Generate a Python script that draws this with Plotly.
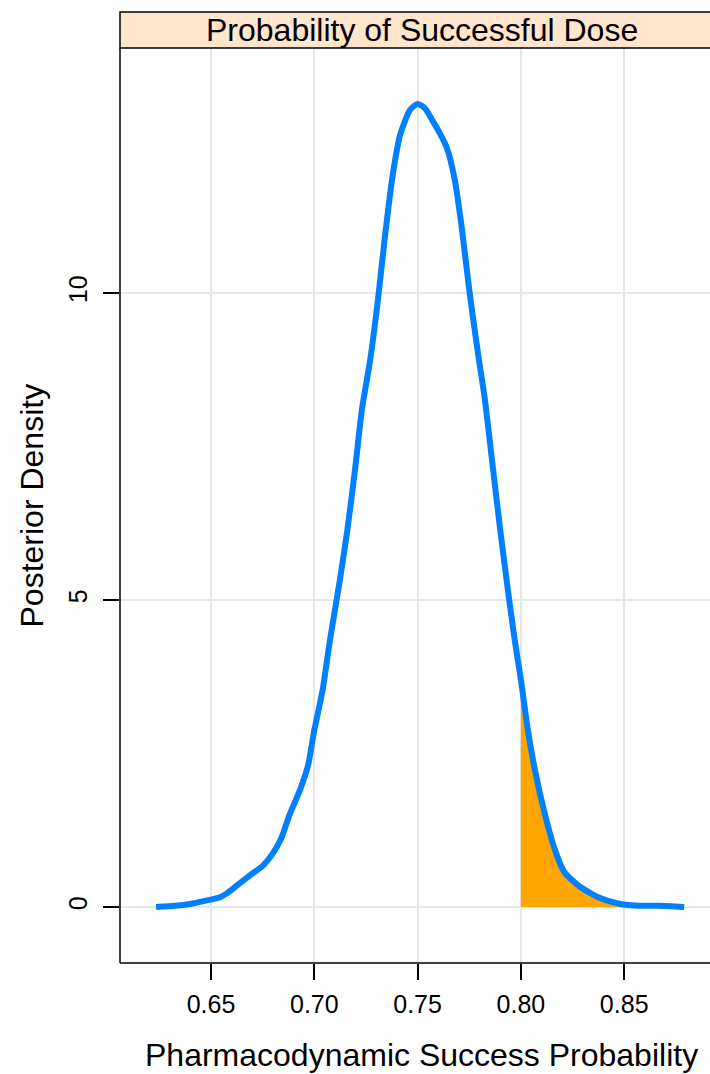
import numpy as np
import plotly.graph_objects as go

# Posterior density of the pharmacodynamic success probability
success_prob = [0.6234, 0.6326, 0.6398, 0.6470, 0.6544, 0.6580, 0.6640, 0.6690,
                0.6750, 0.6795, 0.6840, 0.6880, 0.6930, 0.6970, 0.7000, 0.7040,
                0.7076, 0.7124, 0.7160, 0.7197, 0.7230, 0.7270, 0.7308, 0.7340,
                0.7376, 0.7415, 0.7463, 0.7500, 0.7535, 0.7570, 0.7608, 0.7642,
                0.7680, 0.7715, 0.7750, 0.7790, 0.7826, 0.7860, 0.7900, 0.7937,
                0.7970, 0.8000, 0.8034, 0.8068, 0.8117, 0.8165, 0.8210, 0.8286,
                0.8380, 0.8480, 0.8576, 0.8670, 0.8790]
density = [0.00, 0.02, 0.05, 0.10, 0.16, 0.23, 0.39, 0.52,
           0.67, 0.85, 1.12, 1.50, 1.90, 2.31, 2.88, 3.53,
           4.35, 5.33, 6.14, 7.12, 8.09, 8.90, 9.89, 10.86,
           11.84, 12.57, 12.98, 13.08, 13.01, 12.82, 12.60, 12.36,
           11.84, 11.03, 10.05, 9.07, 8.26, 7.28, 6.14, 5.16,
           4.35, 3.70, 2.88, 2.23, 1.50, 0.93, 0.57, 0.33,
           0.15, 0.05, 0.02, 0.02, 0.00]
threshold = 0.80

x_ticks = [0.65, 0.70, 0.75, 0.80, 0.85]
x_tick_labels = ["0.65", "0.70", "0.75", "0.80", "0.85"]
y_ticks = [0, 5, 10]
y_tick_labels = ["0", "5", "10"]

panel_title = "Probability of Successful Dose"
x_title = "Pharmacodynamic Success Probability"
y_title = "Posterior Density"

FONT = "Liberation Sans, Arial, Helvetica, sans-serif"
W, H = 710, 1074
L, R, T, B = 120, 0, 48, 111
STRIP_H = 36

xs = np.array(success_prob)
ys = np.array(density)

# shaded tail above the threshold
tail_x = np.concatenate([[threshold], xs[xs > threshold]])
tail_y = np.concatenate([[np.interp(threshold, xs, ys)], ys[xs > threshold]])
fill_x = np.concatenate([[threshold], tail_x, [tail_x[-1]]])
fill_y = np.concatenate([[0], tail_y, [0]])

fig = go.Figure()
fig.add_trace(go.Scatter(x=fill_x, y=fill_y, mode="lines", fill="toself",
                         fillcolor="#FFA500", line=dict(width=0),
                         hoverinfo="skip", showlegend=False))
fig.add_trace(go.Scatter(x=xs, y=ys, mode="lines",
                         line=dict(color="#0080FF", width=6, shape="spline", smoothing=0.6),
                         showlegend=False))

plot_w = W - L - R
plot_h = H - T - B
px_per_x = 103.3 / 0.05
x0 = 0.65 - (211 - L) / px_per_x
x1 = 0.65 + (W - R - 211) / px_per_x

axis_common = dict(showline=False, zeroline=False, showgrid=True,
                   gridcolor="#E6E6E6", gridwidth=1.5,
                   ticks="outside", ticklen=16, tickwidth=1.5, tickcolor="black",
                   tickfont=dict(family=FONT, size=25, color="black"))
fig.update_xaxes(range=[x0, x1], tickvals=x_ticks, ticktext=x_tick_labels,
                 ticklabelstandoff=3, **axis_common)
fig.update_yaxes(range=[-0.912, 13.99], tickvals=y_ticks, ticktext=y_tick_labels,
                 tickangle=-90, ticklabelstandoff=6, **axis_common)

line_black = dict(color="black", width=1.5)
# panel frame (left and bottom)
fig.add_shape(type="line", xref="paper", yref="paper", x0=0, x1=0, y0=0, y1=1, line=line_black)
fig.add_shape(type="line", xref="paper", yref="paper", x0=0, x1=1.05, y0=0, y1=0, line=line_black)
# strip
s_top = 1 + STRIP_H / plot_h
fig.add_shape(type="rect", xref="paper", yref="paper", x0=0, x1=1.05, y0=1, y1=s_top,
              fillcolor="#FFE5CC", line=line_black, layer="above")
strip_center = ((L + (L + 603)) / 2 - L) / plot_w
fig.add_annotation(text=panel_title, xref="paper", yref="paper", x=strip_center,
                   y=(1 + s_top) / 2, showarrow=False, xanchor="center", yanchor="middle",
                   font=dict(family=FONT, size=32, color="black"))
fig.add_annotation(text=x_title, xref="paper", yref="paper", x=strip_center,
                   y=-(1055 - (H - B)) / plot_h, showarrow=False, xanchor="center",
                   yanchor="middle", font=dict(family=FONT, size=32, color="black"))
fig.add_annotation(text=y_title, xref="paper", yref="paper", x=-(L - 31) / plot_w,
                   y=0.5, showarrow=False, xanchor="center", yanchor="middle",
                   textangle=-90, font=dict(family=FONT, size=32, color="black"))

fig.update_layout(width=W, height=H, margin=dict(l=L, r=R, t=T, b=B, pad=0),
                  plot_bgcolor="white", paper_bgcolor="white")
fig.write_html("out.html")
